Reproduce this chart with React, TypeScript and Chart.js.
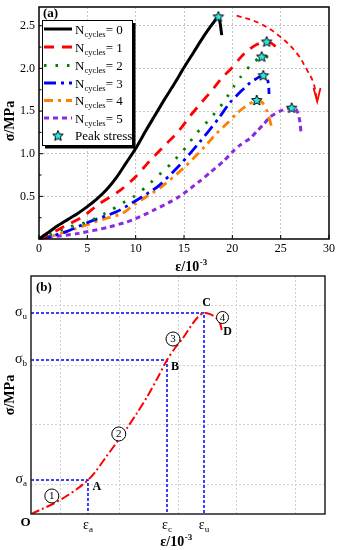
import React, { useEffect, useRef } from "react";
import { Chart, registerables } from "chart.js";

Chart.register(...registerables);

const SERIF = "'Liberation Serif', 'Times New Roman', serif";

// ---------------- Panel (a) data ----------------
const cycleLabels = ["0", "1", "2", "3", "4", "5"];

const strain0 = [0, 1, 2, 3, 4, 5, 6, 7, 8, 9, 10, 11, 12, 13, 14, 15, 16, 17, 18, 18.55, 18.75, 18.9];
const stress0 = [0, 0.08, 0.16, 0.23, 0.3, 0.38, 0.47, 0.58, 0.72, 0.89, 1.06, 1.26, 1.45, 1.64, 1.82, 2.01, 2.19, 2.37, 2.53, 2.61, 2.52, 2.39];

const strain1 = [0, 1, 2.07, 3, 4.48, 6.21, 8.28, 10.0, 11.48, 13.21, 14.41, 15.62, 16.65, 17.87, 19.0, 20.0, 20.79, 21.6, 22.52, 23.55, 24.1, 24.5, 24.75];
const stress1 = [0, 0.05, 0.115, 0.17, 0.257, 0.41, 0.56, 0.73, 0.92, 1.12, 1.26, 1.44, 1.58, 1.74, 1.9, 2.01, 2.12, 2.21, 2.28, 2.316, 2.29, 2.25, 2.17];

const strain2 = [0, 1.03, 3.1, 5.0, 7.42, 8.45, 9.7, 10.96, 12.69, 13.73, 15.28, 16.14, 17.69, 19.07, 20.1, 20.79, 21.83, 23.04, 23.8, 24.6];
const stress2 = [0, 0.046, 0.14, 0.2, 0.335, 0.41, 0.49, 0.6, 0.78, 0.89, 1.085, 1.22, 1.41, 1.6, 1.78, 1.89, 2.03, 2.14, 2.13, 2.11];

const strain3 = [0, 1.5, 2.76, 5.17, 7.93, 9.75, 11.38, 12.34, 14.59, 16.65, 18.55, 19.76, 20.79, 21.83, 23.2, 23.6, 23.75, 23.8];
const stress3 = [0, 0.04, 0.084, 0.2, 0.315, 0.43, 0.546, 0.62, 0.87, 1.14, 1.41, 1.6, 1.72, 1.83, 1.92, 1.88, 1.8, 1.7];

const strain4 = [0, 1.5, 3.8, 6.9, 8.62, 9.93, 12.52, 14.93, 17.17, 18.2, 19.58, 20.45, 21.13, 22.52, 23.1, 23.55, 24.07];
const stress4 = [0, 0.04, 0.123, 0.24, 0.3, 0.41, 0.6, 0.83, 1.085, 1.22, 1.37, 1.47, 1.535, 1.63, 1.6, 1.51, 1.315];

const strain5 = [0, 1.03, 4.14, 7.24, 9.07, 10.0, 11.82, 14.41, 16.65, 17.69, 19.07, 20.1, 20.79, 21.83, 22.52, 23.2, 23.9, 24.93, 26.14, 26.66, 27.0, 27.1];
const stress5 = [0, 0.02, 0.066, 0.14, 0.2, 0.24, 0.335, 0.49, 0.68, 0.78, 0.91, 1.03, 1.1, 1.18, 1.26, 1.34, 1.43, 1.5, 1.54, 1.51, 1.37, 1.24];

const peakStrain = [18.55, 23.55, 23.04, 23.2, 22.52, 26.14];
const peakStress = [2.61, 2.316, 2.14, 1.92, 1.63, 1.54];

const arrowStrain = [20.45, 22.86, 24.93, 26.66, 27.69, 28.38, 28.75];
const arrowStress = [2.62, 2.527, 2.373, 2.18, 1.988, 1.834, 1.63];
const arrowHeadStrain = [28.4, 28.78, 29.12];
const arrowHeadStress = [1.77, 1.61, 1.77];

const xTicksA = [0, 5, 10, 15, 20, 25, 30];
const yTicksA = [0, 0.25, 0.5, 0.75, 1.0, 1.25, 1.5, 1.75, 2.0, 2.25, 2.5];

// ---------------- Panel (b) data ----------------
const bStrain = [0, 0.187, 0.374, 0.578, 0.782, 0.969, 1.105, 1.276, 1.463, 1.633, 1.803, 1.973, 2.143, 2.313, 2.449, 2.585, 2.721, 2.84, 2.942, 3.044, 3.146, 3.214, 3.248];
const bStress = [0, 0.084, 0.168, 0.286, 0.42, 0.571, 0.723, 0.958, 1.21, 1.445, 1.697, 1.966, 2.269, 2.588, 2.79, 2.958, 3.16, 3.311, 3.378, 3.36, 3.3, 3.21, 3.07];

const keyStrain = [0.969, 2.313, 2.942];
const keyStress = [0.571, 2.588, 3.378];
const stressSubs = ["a", "b", "u"];
const strainSubs = ["a", "c", "u"];

const letterLabels = ["A", "B", "C", "D"];
const letterStrain = [1.12, 2.449, 2.988, 3.342];
const letterStress = [0.449, 2.47, 3.541, 3.064];

const stageLabels = ["1", "2", "3", "4"];
const stageStrain = [0.354, 1.493, 2.415, 3.257];
const stageStress = [0.303, 1.345, 2.941, 3.303];

const gridB = [0.5, 1.5, 2.5, 3.5, 4.5];
const gridBy = [0.5, 1.5, 2.5, 3.5];

// ---------------- styles ----------------
const seriesStrain = [strain0, strain1, strain2, strain3, strain4, strain5];
const seriesStress = [stress0, stress1, stress2, stress3, stress4, stress5];
const seriesColors = ["#000000", "#ff0000", "#008000", "#0000ff", "#ff8000", "#8a2be2"];
const seriesDash = [[], [10, 8], [2.5, 9], [12, 5, 3, 5], [9, 5, 3, 5], [5, 4]];
const seriesWidth = [3, 2.8, 2.8, 2.8, 2.8, 3];

const pts = (xs: number[], ys: number[]) => xs.map((x, i) => ({ x, y: ys[i] }));

function makeStar(r: number): HTMLCanvasElement {
  const size = Math.ceil(r * 2 + 3);
  const c = document.createElement("canvas");
  c.width = size;
  c.height = size;
  const g = c.getContext("2d")!;
  const cx = size / 2;
  const cy = size / 2 + 0.5;
  g.beginPath();
  for (let i = 0; i < 10; i++) {
    const rad = i % 2 === 0 ? r : r * 0.45;
    const ang = -Math.PI / 2 + (i * Math.PI) / 5;
    const px = cx + rad * Math.cos(ang);
    const py = cy + rad * Math.sin(ang);
    if (i === 0) g.moveTo(px, py);
    else g.lineTo(px, py);
  }
  g.closePath();
  g.fillStyle = "#2ee6e6";
  g.fill();
  g.lineWidth = 1;
  g.strokeStyle = "#000";
  g.stroke();
  return c;
}

function line(ctx: CanvasRenderingContext2D, x1: number, y1: number, x2: number, y2: number) {
  ctx.beginPath();
  ctx.moveTo(x1, y1);
  ctx.lineTo(x2, y2);
  ctx.stroke();
}

const isHalf = (v: number) => Math.abs(v / 0.5 - Math.round(v / 0.5)) < 1e-6;

function drawTitleEps(ctx: CanvasRenderingContext2D, cx: number, baseline: number) {
  ctx.font = `bold 14px ${SERIF}`;
  const w1 = ctx.measureText("ε/10").width;
  ctx.font = `bold 9px ${SERIF}`;
  const w2 = ctx.measureText("-3").width;
  const x0 = cx - (w1 + w2) / 2;
  ctx.textAlign = "left";
  ctx.textBaseline = "alphabetic";
  ctx.font = `bold 14px ${SERIF}`;
  ctx.fillText("ε/10", x0, baseline);
  ctx.font = `bold 9px ${SERIF}`;
  ctx.fillText("-3", x0 + w1 + 0.5, baseline - 6);
}

function drawTitleSigma(ctx: CanvasRenderingContext2D, cx: number, cy: number) {
  ctx.save();
  ctx.translate(cx, cy);
  ctx.rotate(-Math.PI / 2);
  ctx.font = `bold 14px ${SERIF}`;
  ctx.textAlign = "center";
  ctx.textBaseline = "middle";
  ctx.fillText("σ/MPa", 0, 0);
  ctx.restore();
}

export default function App() {
  const refA = useRef<HTMLCanvasElement>(null);
  const refB = useRef<HTMLCanvasElement>(null);

  useEffect(() => {
    const star = makeStar(5.5);

    const panelAPlugin = {
      id: "panelA",
      afterDraw(chart: any) {
        const ctx: CanvasRenderingContext2D = chart.ctx;
        const a = chart.chartArea;
        const xs = chart.scales.x;
        const ys = chart.scales.y;
        ctx.save();
        ctx.setLineDash([]);
        ctx.strokeStyle = "#000";
        ctx.lineWidth = 1.5;
        ctx.strokeRect(a.left, a.top, a.right - a.left, a.bottom - a.top);
        ctx.lineWidth = 1;
        xTicksA.forEach((v) => {
          const px = xs.getPixelForValue(v);
          line(ctx, px, a.bottom, px, a.bottom - 4);
        });
        yTicksA.forEach((v) => {
          const py = ys.getPixelForValue(v);
          line(ctx, a.left, py, a.left + (isHalf(v) ? 4 : 2.5), py);
        });

        // legend box
        ctx.fillStyle = "#fff";
        ctx.fillRect(42.5, 20.5, 90, 125);
        ctx.fillStyle = "#000";
        ctx.fillRect(133, 23, 2.5, 125.5);
        ctx.fillRect(45, 146, 90.5, 2.5);
        ctx.lineWidth = 1;
        ctx.strokeRect(42.5, 20.5, 90, 125);

        const rows = [29, 47, 65.5, 83, 100.5, 118, 135.5];
        for (let i = 0; i < 6; i++) {
          const y = rows[i];
          ctx.setLineDash(seriesDash[i]);
          ctx.strokeStyle = seriesColors[i];
          ctx.lineWidth = seriesWidth[i];
          line(ctx, 44, y, 72, y);
          ctx.setLineDash([]);
          ctx.fillStyle = "#000";
          ctx.textAlign = "left";
          ctx.textBaseline = "alphabetic";
          ctx.font = `13px ${SERIF}`;
          ctx.fillText("N", 75, y + 4.5);
          const wN = ctx.measureText("N").width;
          ctx.font = `8.5px ${SERIF}`;
          ctx.fillText("cycles", 75 + wN, y + 7.5);
          const wS = ctx.measureText("cycles").width;
          ctx.font = `13px ${SERIF}`;
          ctx.fillText("= " + cycleLabels[i], 75 + wN + wS, y + 4.5);
        }
        ctx.drawImage(star, 58 - star.width / 2, rows[6] - star.height / 2);
        ctx.font = `13px ${SERIF}`;
        ctx.fillStyle = "#000";
        ctx.fillText("Peak stress", 75, rows[6] + 4.5);

        // panel label and axis titles
        ctx.font = `bold 13px ${SERIF}`;
        ctx.textBaseline = "middle";
        ctx.fillText("(a)", 43, 14);
        drawTitleSigma(ctx, 10, 121);
        drawTitleEps(ctx, 191, 271);
        ctx.restore();
      },
    };

    const datasetsA: any[] = [
      {
        label: "Peak stress",
        data: pts(peakStrain, peakStress),
        showLine: false,
        pointStyle: star,
        pointRadius: 6,
        pointHoverRadius: 6,
      },
      ...seriesStrain.map((xs, i) => ({
        label: "N=" + cycleLabels[i],
        data: pts(xs, seriesStress[i]),
        showLine: true,
        borderColor: seriesColors[i],
        borderWidth: seriesWidth[i],
        borderDash: seriesDash[i],
        pointRadius: 0,
        tension: 0.25,
        fill: false,
      })),
      {
        label: "arrow",
        data: pts(arrowStrain, arrowStress),
        showLine: true,
        borderColor: "#ff0000",
        borderWidth: 1.8,
        borderDash: [5, 4],
        pointRadius: 0,
        tension: 0.4,
      },
      {
        label: "arrowhead",
        data: pts(arrowHeadStrain, arrowHeadStress),
        showLine: true,
        borderColor: "#ff0000",
        borderWidth: 1.8,
        pointRadius: 0,
        tension: 0,
      },
    ];

    const chartA = new Chart(refA.current as HTMLCanvasElement, {
      type: "scatter",
      data: { datasets: datasetsA },
      options: {
        animation: false,
        responsive: false,
        events: [],
        layout: { padding: { left: 0, top: 3, right: 10, bottom: 0 } },
        plugins: { legend: { display: false }, tooltip: { enabled: false } },
        scales: {
          x: {
            type: "linear",
            min: 0,
            max: 30,
            afterBuildTicks: (s: any) => {
              s.ticks = xTicksA.map((v) => ({ value: v }));
            },
            afterFit: (s: any) => {
              s.height = 37;
              s.paddingLeft = 0;
              s.paddingRight = 0;
            },
            grid: {
              drawTicks: false,
              tickLength: 0,
              lineWidth: 1,
              color: (c: any) => {
                const v = c.tick ? c.tick.value : 0;
                return v > 0 && v < 30 ? "#c4c4c4" : "rgba(0,0,0,0)";
              },
            },
            border: { display: false, dash: [2, 2] },
            ticks: {
              padding: 3,
              color: "#000",
              font: { family: SERIF, size: 12 },
              maxRotation: 0,
              autoSkip: false,
              callback: (v: any) => String(v),
            },
          },
          y: {
            type: "linear",
            min: 0,
            max: 2.72,
            afterBuildTicks: (s: any) => {
              s.ticks = yTicksA.map((v) => ({ value: v }));
            },
            afterFit: (s: any) => {
              s.width = 39;
              s.paddingTop = 0;
              s.paddingBottom = 0;
            },
            grid: {
              drawTicks: false,
              tickLength: 0,
              lineWidth: 1,
              color: (c: any) => {
                const v = c.tick ? c.tick.value : 0;
                return v > 0.01 && isHalf(v) ? "#c4c4c4" : "rgba(0,0,0,0)";
              },
            },
            border: { display: false, dash: [2, 2] },
            ticks: {
              padding: 4,
              color: "#000",
              font: { family: SERIF, size: 12 },
              autoSkip: false,
              callback: (v: any) => (v > 0.01 && isHalf(v) ? Number(v).toFixed(1) : ""),
            },
          },
        },
      } as any,
      plugins: [panelAPlugin],
    });

    // ---------------- Panel (b) ----------------
    const panelBPlugin = {
      id: "panelB",
      afterDraw(chart: any) {
        const ctx: CanvasRenderingContext2D = chart.ctx;
        const a = chart.chartArea;
        const xs = chart.scales.x;
        const ys = chart.scales.y;
        ctx.save();
        ctx.setLineDash([]);
        ctx.strokeStyle = "#222";
        ctx.lineWidth = 1.5;
        ctx.strokeRect(a.left, a.top, a.right - a.left, a.bottom - a.top);
        ctx.fillStyle = "#000";

        // stress labels on y axis
        for (let i = 0; i < 3; i++) {
          const py = ys.getPixelForValue(keyStress[i]);
          ctx.font = `9px ${SERIF}`;
          const ws = ctx.measureText(stressSubs[i]).width;
          ctx.textAlign = "left";
          ctx.textBaseline = "alphabetic";
          ctx.fillText(stressSubs[i], 27 - ws, py + 6);
          ctx.font = `14px ${SERIF}`;
          ctx.textAlign = "right";
          ctx.fillText("σ", 27 - ws, py + 3);
        }
        // strain labels on x axis
        for (let i = 0; i < 3; i++) {
          const px = xs.getPixelForValue(keyStrain[i]);
          ctx.font = `14px ${SERIF}`;
          const we = ctx.measureText("ε").width;
          ctx.font = `9px ${SERIF}`;
          const ws = ctx.measureText(strainSubs[i]).width;
          const x0 = px - (we + ws) / 2;
          ctx.textAlign = "left";
          ctx.textBaseline = "alphabetic";
          ctx.font = `14px ${SERIF}`;
          ctx.fillText("ε", x0, 258.5);
          ctx.font = `9px ${SERIF}`;
          ctx.fillText(strainSubs[i], x0 + we, 261.5);
        }
        // origin
        ctx.font = `bold 13px ${SERIF}`;
        ctx.textAlign = "center";
        ctx.textBaseline = "middle";
        ctx.fillText("O", 25.5, 253);

        // letters
        ctx.font = `bold 12px ${SERIF}`;
        for (let i = 0; i < letterLabels.length; i++) {
          ctx.fillText(
            letterLabels[i],
            xs.getPixelForValue(letterStrain[i]),
            ys.getPixelForValue(letterStress[i])
          );
        }
        // circled stage numbers
        ctx.lineWidth = 1;
        ctx.strokeStyle = "#000";
        for (let i = 0; i < stageLabels.length; i++) {
          const px = xs.getPixelForValue(stageStrain[i]);
          const py = ys.getPixelForValue(stageStress[i]);
          ctx.fillStyle = "#fff";
          ctx.beginPath();
          ctx.arc(px, py, i === 3 ? 6 : 7, 0, Math.PI * 2);
          ctx.fill();
          ctx.stroke();
          ctx.fillStyle = "#000";
          ctx.font = `11px ${SERIF}`;
          ctx.fillText(stageLabels[i], px, py + 0.5);
        }

        ctx.font = `bold 13px ${SERIF}`;
        ctx.textAlign = "left";
        ctx.fillText("(b)", 36, 18);
        drawTitleSigma(ctx, 10, 125);
        drawTitleEps(ctx, 176, 276);
        ctx.restore();
      },
    };

    const datasetsB: any[] = [
      {
        label: "curve",
        data: pts(bStrain, bStress),
        showLine: true,
        borderColor: "#ff0000",
        borderWidth: 2,
        borderDash: [9, 3, 2, 3],
        pointRadius: 0,
        tension: 0.3,
      },
      ...keyStrain.map((x, i) => ({
        label: "guide" + i,
        data: [
          { x: 0, y: keyStress[i] },
          { x, y: keyStress[i] },
          { x, y: 0 },
        ],
        showLine: true,
        borderColor: "#0000ff",
        borderWidth: 1.5,
        borderDash: [3, 2],
        pointRadius: 0,
        tension: 0,
      })),
    ];

    const chartB = new Chart(refB.current as HTMLCanvasElement, {
      type: "scatter",
      data: { datasets: datasetsB },
      options: {
        animation: false,
        responsive: false,
        events: [],
        layout: { padding: { left: 0, top: 6, right: 14, bottom: 0 } },
        plugins: { legend: { display: false }, tooltip: { enabled: false } },
        scales: {
          x: {
            type: "linear",
            min: 0,
            max: 5,
            afterBuildTicks: (s: any) => {
              s.ticks = gridB.map((v) => ({ value: v }));
            },
            afterFit: (s: any) => {
              s.height = 36;
              s.paddingLeft = 0;
              s.paddingRight = 0;
            },
            grid: { drawTicks: false, tickLength: 0, lineWidth: 1, color: "#d0d0d0" },
            border: { display: false, dash: [2, 2] },
            ticks: { display: false },
          },
          y: {
            type: "linear",
            min: 0,
            max: 4,
            afterBuildTicks: (s: any) => {
              s.ticks = gridBy.map((v) => ({ value: v }));
            },
            afterFit: (s: any) => {
              s.width = 31;
              s.paddingTop = 0;
              s.paddingBottom = 0;
            },
            grid: { drawTicks: false, tickLength: 0, lineWidth: 1, color: "#d0d0d0" },
            border: { display: false, dash: [2, 2] },
            ticks: { display: false },
          },
        },
      } as any,
      plugins: [panelBPlugin],
    });

    return () => {
      chartA.destroy();
      chartB.destroy();
    };
  }, []);

  return (
    <div style={{ position: "absolute", left: 0, top: 0, width: 339, height: 550, background: "#fff" }}>
      <canvas ref={refA} width={339} height={276} style={{ position: "absolute", left: 0, top: 0 }} />
      <canvas ref={refB} width={339} height={280} style={{ position: "absolute", left: 0, top: 270 }} />
    </div>
  );
}
